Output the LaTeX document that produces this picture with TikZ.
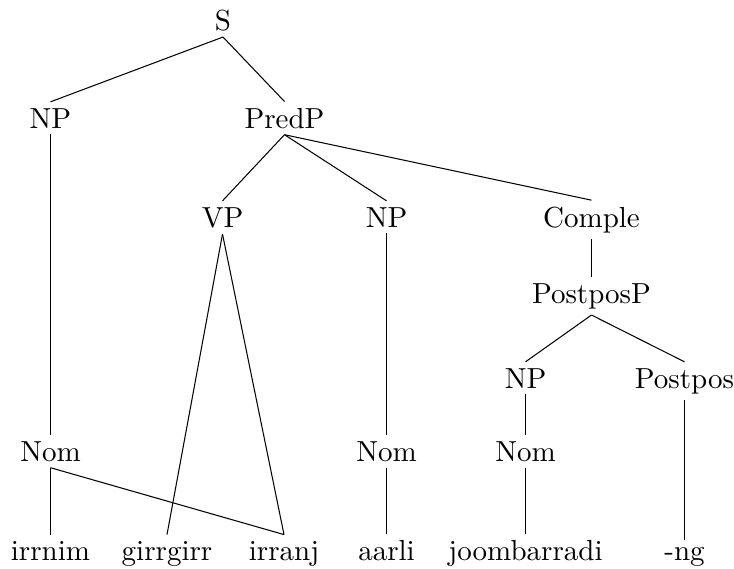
\documentclass[tikz,border=0pt]{standalone}
\begin{document}
\begin{tikzpicture}[x=0.3448pt,y=-0.3448pt,
  lbl/.style={anchor=base,inner sep=2pt,font=\fontsize{10}{12}\selectfont},
  edge/.style={line width=0.36pt}]
\useasboundingbox (0,0) rectangle (734,568);
\node[lbl] (S) at (223,30) {S};
\node[lbl] (NPa) at (50.5,128) {NP};
\node[lbl] (PredP) at (284.5,128) {PredP};
\node[lbl] (VP) at (222.5,227) {VP};
\node[lbl] (NPb) at (386.5,227) {NP};
\node[lbl] (Comple) at (591.5,227) {Comple};
\node[lbl] (PostposP) at (591.5,303) {PostposP};
\node[lbl] (NPc) at (525.5,388) {NP};
\node[lbl] (Postpos) at (684.5,388) {Postpos};
\node[lbl] (Noma) at (50.5,461) {Nom};
\node[lbl] (Nomb) at (386.5,461) {Nom};
\node[lbl] (Nomc) at (525.5,461) {Nom};
\node[lbl] (irrnim) at (50.5,560) {irrnim};
\node[lbl] (girrgirr) at (167,560) {girrgirr};
\node[lbl] (irranj) at (284,560) {irranj};
\node[lbl] (aarli) at (386.5,560) {aarli};
\node[lbl] (joomb) at (525.5,560) {joombarradi};
\node[lbl] (ng) at (684.5,560) {-ng};
\draw[edge] (S.south) -- (NPa.north);
\draw[edge] (S.south) -- (PredP.north);
\draw[edge] (NPa.south) -- (Noma.north);
\draw[edge] (PredP.south) -- (VP.north);
\draw[edge] (PredP.south) -- (NPb.north);
\draw[edge] (PredP.south) -- (Comple.north);
\draw[edge] (VP.south) -- (girrgirr.north);
\draw[edge] (VP.south) -- (irranj.north);
\draw[edge] (NPb.south) -- (Nomb.north);
\draw[edge] (Comple.south) -- (PostposP.north);
\draw[edge] (PostposP.south) -- (NPc.north);
\draw[edge] (PostposP.south) -- (Postpos.north);
\draw[edge] (NPc.south) -- (Nomc.north);
\draw[edge] (Postpos.south) -- (ng.north);
\draw[edge] (Noma.south) -- (irrnim.north);
\draw[edge] (Noma.south) -- (irranj.north);
\draw[edge] (Nomb.south) -- (aarli.north);
\draw[edge] (Nomc.south) -- (joomb.north);
\end{tikzpicture}
\end{document}
